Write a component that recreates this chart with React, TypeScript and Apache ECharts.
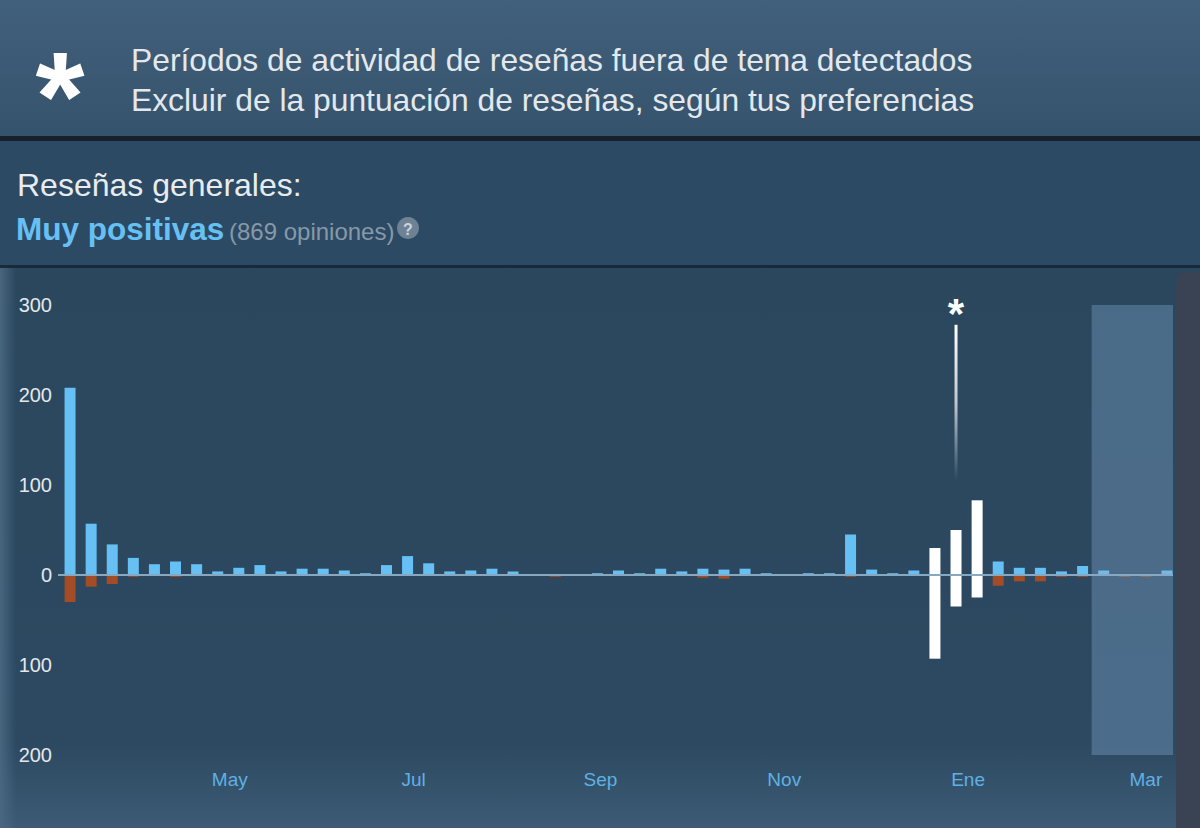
import React, { useEffect, useRef } from 'react';
import * as echarts from 'echarts';

// ---- data ----
const weeks = [
  '2017-03-09', '2017-03-16', '2017-03-23', '2017-03-30', '2017-04-06', '2017-04-13', '2017-04-20', '2017-04-27',
  '2017-05-04', '2017-05-11', '2017-05-18', '2017-05-25', '2017-06-01', '2017-06-08', '2017-06-15', '2017-06-22',
  '2017-06-29', '2017-07-06', '2017-07-13', '2017-07-20', '2017-07-27', '2017-08-03', '2017-08-10', '2017-08-17',
  '2017-08-24', '2017-08-31', '2017-09-07', '2017-09-14', '2017-09-21', '2017-09-28', '2017-10-05', '2017-10-12',
  '2017-10-19', '2017-10-26', '2017-11-02', '2017-11-09', '2017-11-16', '2017-11-23', '2017-11-30', '2017-12-07',
  '2017-12-14', '2017-12-21', '2017-12-28', '2018-01-04', '2018-01-11', '2018-01-18', '2018-01-25', '2018-02-01',
  '2018-02-08', '2018-02-15', '2018-02-22', '2018-03-01', '2018-03-08',
];
const positiveReviews = [
  208, 57, 34, 19, 12, 15, 12, 4, 8, 11, 4, 7, 7, 5, 2, 11, 21, 13, 4, 5, 7, 4, 1, 1, 1, 2, 5,
  2, 7, 4, 7, 6, 7, 2, 1, 2, 2, 45, 6, 2, 5, 30, 50, 83, 15, 8, 8, 4, 10, 5, 1, 1, 5,
];
const negativeReviews = [
  -30, -13, -10, -2, -1, -2, -1, 0, 0, -1, 0, 0, 0, 0, 0, -1, -1, -1, 0, 0, 0, 0, 0, -2, 0, 0, 0,
  0, 0, 0, -3, -4, 0, 0, 0, -1, 0, -2, 0, 0, 0, -93, -35, -25, -12, -7, -7, -2, -2, 0, -2, -2, 0,
];
const offTopicWeeks = ['2017-12-21', '2017-12-28', '2018-01-04'];
const offTopicMarker = [['2017-12-28', 278, 105]];
const recentPeriod = [['2018-02-11', '2018-03-10']];
const axisRange = ['2017-03-05', '2018-03-10'];
const monthTicks = ['2017-05-01', '2017-07-01', '2017-09-01', '2017-11-01', '2018-01-01', '2018-03-01'];
const monthNames = ['Ene', 'Feb', 'Mar', 'Abr', 'May', 'Jun', 'Jul', 'Ago', 'Sep', 'Oct', 'Nov', 'Dic'];
const yRange = [-200, 300];
const yStep = 100;
const headerLines = [
  'Períodos de actividad de reseñas fuera de tema detectados',
  'Excluir de la puntuación de reseñas, según tus preferencias',
];
const summaryTitle = 'Reseñas generales:';
const summaryRating = 'Muy positivas';
const summaryCount = '(869 opiniones)';

const FONT = '"Liberation Sans", Arial, Helvetica, sans-serif';
const ts = (s: string) => new Date(s + 'T00:00:00').getTime();

export default function App() {
  const ref = useRef<HTMLDivElement>(null);

  useEffect(() => {
    if (!ref.current) return;
    const chart = echarts.init(ref.current, undefined, { renderer: 'svg' });
    const offSet = new Set(offTopicWeeks);

    const posData = weeks.map((w, i) => ({
      value: [ts(w), positiveReviews[i]],
      itemStyle: { color: offSet.has(w) ? '#ffffff' : '#66c0f4' },
    }));
    const negData = weeks.map((w, i) => ({
      value: [ts(w), negativeReviews[i]],
      itemStyle: { color: offSet.has(w) ? '#ffffff' : '#a34c25' },
    }));

    const option: any = {
      animation: false,
      backgroundColor: '#2a475e',
      textStyle: { fontFamily: FONT },
      grid: { left: 58, right: 27, top: 305, bottom: 73 },
      xAxis: {
        type: 'value',
        min: ts(axisRange[0]),
        max: ts(axisRange[1]),
        axisLine: { show: false },
        axisTick: { show: false },
        splitLine: { show: false },
        axisLabel: {
          customValues: monthTicks.map(ts),
          formatter: (v: number) => monthNames[new Date(v).getMonth()],
          color: '#5fb0e4',
          fontSize: 19,
          margin: 15,
          fontFamily: FONT,
        },
      },
      yAxis: {
        type: 'value',
        min: yRange[0],
        max: yRange[1],
        interval: yStep,
        axisLine: { show: false },
        axisTick: { show: false },
        splitLine: { show: false },
        axisLabel: {
          formatter: (v: number) => String(Math.abs(v)),
          color: '#e4e8ec',
          fontSize: 20,
          margin: 6,
          fontFamily: FONT,
        },
      },
      graphic: {
        elements: [
          {
            type: 'rect', z: -10, silent: true,
            shape: { x: 0, y: 0, width: 1200, height: 137 },
            style: {
              fill: new echarts.graphic.LinearGradient(0, 0, 0, 1, [
                { offset: 0, color: '#41607b' },
                { offset: 1, color: '#36536d' },
              ]),
            },
          },
          { type: 'rect', z: -9, silent: true, shape: { x: 0, y: 136, width: 1200, height: 5 }, style: { fill: '#16212d' } },
          { type: 'rect', z: -10, silent: true, shape: { x: 0, y: 141, width: 1200, height: 124 }, style: { fill: '#2c4a64' } },
          { type: 'rect', z: -9, silent: true, shape: { x: 0, y: 265, width: 1200, height: 3 }, style: { fill: '#1a2a3a' } },
          {
            type: 'rect', z: -10, silent: true,
            shape: { x: 0, y: 268, width: 1200, height: 560 },
            style: {
              fill: new echarts.graphic.LinearGradient(0, 0, 0, 1, [
                { offset: 0, color: '#2a475e' },
                { offset: 0.85, color: '#2c4961' },
                { offset: 1, color: '#3e5b75' },
              ]),
            },
          },
          {
            type: 'rect', z: -9, silent: true,
            shape: { x: 0, y: 268, width: 16, height: 560 },
            style: {
              fill: new echarts.graphic.LinearGradient(0, 0, 1, 0, [
                { offset: 0, color: 'rgba(75,105,130,0.9)' },
                { offset: 1, color: 'rgba(75,105,130,0)' },
              ]),
            },
          },
          { type: 'rect', z: -8, silent: true, shape: { x: 1176, y: 272, width: 24, height: 556, r: [8, 0, 0, 0] }, style: { fill: '#394353' } },
          {
            type: 'text', z: 10, x: 60, y: 96,
            style: { text: '*', fill: '#ffffff', font: `bold 126px ${FONT}`, align: 'center', verticalAlign: 'middle' },
          },
          {
            type: 'text', z: 10, x: 131, y: 60,
            style: { text: headerLines[0], fill: '#e3e8ec', font: `31.8px ${FONT}`, align: 'left', verticalAlign: 'middle' },
          },
          {
            type: 'text', z: 10, x: 131, y: 100,
            style: { text: headerLines[1], fill: '#e3e8ec', font: `31.8px ${FONT}`, align: 'left', verticalAlign: 'middle' },
          },
          {
            type: 'text', z: 10, x: 17, y: 185,
            style: { text: summaryTitle, fill: '#e8ecef', font: `32px ${FONT}`, align: 'left', verticalAlign: 'middle' },
          },
          {
            type: 'text', z: 10, x: 16, y: 229,
            style: { text: summaryRating, fill: '#66c0f4', font: `bold 31.5px ${FONT}`, align: 'left', verticalAlign: 'middle' },
          },
          {
            type: 'text', z: 10, x: 229, y: 231,
            style: { text: summaryCount, fill: '#8799a9', font: `24px ${FONT}`, align: 'left', verticalAlign: 'middle' },
          },
          { type: 'circle', z: 10, shape: { cx: 408, cy: 228, r: 11 }, style: { fill: '#6e8294' } },
          {
            type: 'text', z: 11, x: 408, y: 229,
            style: { text: '?', fill: '#c9d3dc', font: `bold 16px ${FONT}`, align: 'center', verticalAlign: 'middle' },
          },
        ],
      },
      series: [
        {
          name: 'offtopic',
          type: 'custom',
          z: 1,
          clip: false,
          silent: true,
          encode: { x: 0, y: [1, 2] },
          data: offTopicMarker.map((d) => [ts(d[0] as string), d[1], d[2]]),
          renderItem: (params: any, api: any) => {
            const top = api.coord([api.value(0), api.value(1)]);
            const bot = api.coord([api.value(0), api.value(2)]);
            return {
              type: 'group',
              children: [
                {
                  type: 'rect',
                  shape: { x: top[0] - 1.5, y: top[1], width: 3, height: bot[1] - top[1] },
                  style: {
                    fill: new echarts.graphic.LinearGradient(0, 0, 0, 1, [
                      { offset: 0, color: 'rgba(255,255,255,1)' },
                      { offset: 0.5, color: 'rgba(255,255,255,0.7)' },
                      { offset: 1, color: 'rgba(255,255,255,0)' },
                    ]),
                  },
                },
                {
                  type: 'text',
                  x: top[0],
                  y: top[1] - 11,
                  style: { text: '*', fill: '#ffffff', font: `bold 42px ${FONT}`, align: 'center', verticalAlign: 'middle' },
                },
              ],
            };
          },
          markLine: {
            silent: true,
            symbol: 'none',
            label: { show: false },
            lineStyle: { color: '#86a8c0', width: 2, type: 'solid' },
            data: [{ yAxis: 0 }],
          },
        },
        {
          name: 'positive',
          type: 'bar',
          stack: 'reviews',
          z: 2,
          barWidth: 11,
          data: posData,
        },
        {
          name: 'negative',
          type: 'bar',
          stack: 'reviews',
          z: 2,
          barWidth: 11,
          data: negData,
        },
        {
          name: 'recent',
          type: 'custom',
          z: 4,
          silent: true,
          encode: { x: [0, 1] },
          data: recentPeriod.map((d) => [ts(d[0]), ts(d[1])]),
          renderItem: (params: any, api: any) => {
            const a = api.coord([api.value(0), 0]);
            const b = api.coord([api.value(1), 0]);
            const cs = params.coordSys;
            return {
              type: 'rect',
              shape: { x: a[0], y: cs.y, width: b[0] - a[0], height: cs.height },
              style: { fill: 'rgba(136,174,214,0.35)' },
            };
          },
        },
      ],
    };

    chart.setOption(option);
    return () => chart.dispose();
  }, []);

  return (
    <div
      ref={ref}
      style={{ position: 'fixed', left: 0, top: 0, width: 1200, height: 828 }}
    />
  );
}
